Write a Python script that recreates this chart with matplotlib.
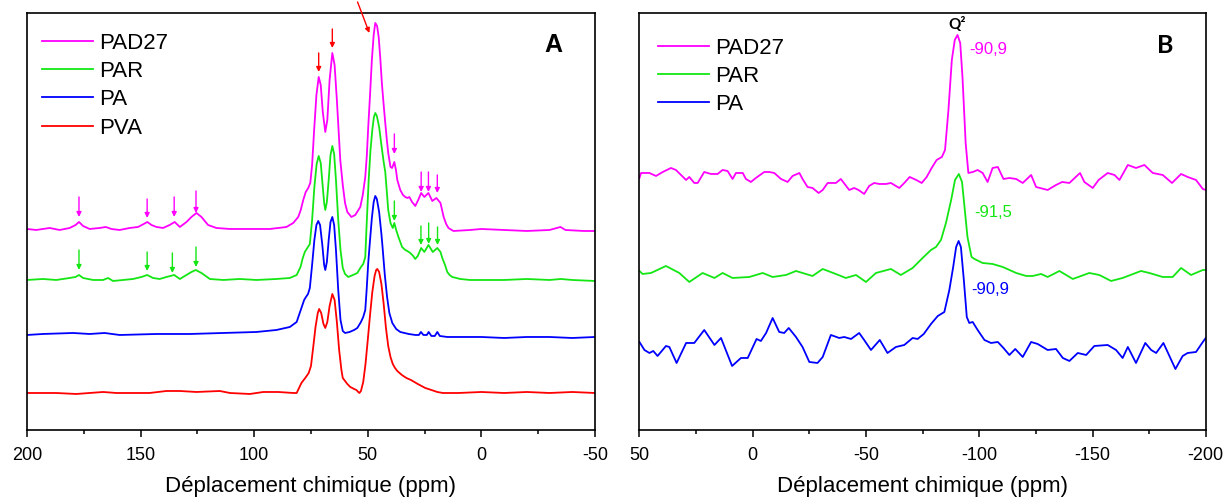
import numpy as np
import matplotlib
matplotlib.use('Agg')
import matplotlib.pyplot as plt
from matplotlib.ticker import MultipleLocator

plt.rcParams['font.family'] = ['Liberation Sans', 'DejaVu Sans']
plt.rcParams['axes.unicode_minus'] = False

# ---- panneau A : RMN 13C (ppm, intensite en unites arbitraires, spectres decales) ----
pad27_a = [(200, 201), (195.9, 200), (190, 202), (185.6, 200), (181.2, 202), (178.6, 205), (177.1, 208),
           (175.3, 204), (172.4, 201), (168, 202), (165.3, 203), (162.8, 201), (159.2, 200), (154.8, 202),
           (151.1, 203), (148.6, 206), (147, 208), (145.2, 205), (143, 203), (140.1, 202), (137.2, 205),
           (135, 208), (132.7, 203), (129.8, 208), (127.6, 213), (125.4, 217), (123.2, 213), (120.3, 205),
           (116.6, 202), (110.7, 201), (101.9, 201), (93.1, 201), (85.8, 203), (82.8, 207), (80.6, 213),
           (79.5, 220), (78.4, 230), (77.3, 238), (76.2, 242), (75.3, 247), (74.5, 265), (73.6, 300),
           (72.6, 335), (71.6, 353), (70.7, 345), (69.8, 318), (68.7, 298), (67.8, 310), (66.8, 350),
           (65.6, 377), (64.6, 365), (63.6, 330), (62.6, 290), (62.1, 270), (61, 245), (60, 227), (59, 218),
           (57.2, 213), (55.5, 215), (53.3, 223), (52.2, 235), (51.1, 253), (50.4, 275), (49.8, 303),
           (49, 335), (48.2, 370), (47.4, 395), (46.7, 407), (45.9, 404), (45.2, 393), (44.5, 372),
           (43.8, 347), (43, 325), (42.3, 307), (41.6, 290), (41, 277), (40, 263), (39.3, 262), (38.3, 268),
           (37.6, 260), (37, 250), (35.7, 240), (34.5, 235), (33.5, 233), (32.5, 232), (31.7, 233),
           (30.5, 228), (29.1, 224), (27.8, 230), (26.5, 237), (25.1, 233), (23.3, 237), (21.6, 229),
           (19.8, 232), (18, 227), (16.6, 213), (15.5, 206), (14.5, 202), (12.3, 199), (5, 200), (0, 201),
           (-10, 200), (-20, 199), (-30, 200), (-34.8, 203), (-37, 200), (-45, 199), (-50, 199)]

par_a = [(200, 150), (193, 151), (187.1, 150), (181.2, 152), (178.6, 153), (177.1, 155), (175.3, 152),
         (170.9, 150), (166.5, 150), (164.3, 152), (162.1, 149), (157.7, 150), (153.3, 151), (149.6, 153),
         (147.1, 155), (144.5, 152), (141.6, 151), (138.6, 153), (135.2, 155), (132.7, 151), (129.8, 155),
         (127.6, 158), (125.7, 160), (123.2, 157), (119.5, 151), (113.6, 150), (106.3, 151), (99, 150),
         (90.2, 151), (84.3, 152), (81.3, 155), (79.6, 163), (78.6, 172), (77.7, 178), (76.6, 182),
         (75.5, 186), (74.5, 210), (73.5, 243), (72.5, 266), (71.6, 274), (70.7, 267), (69.8, 243),
         (69.2, 227), (68.7, 220), (68, 228), (67.2, 250), (66.4, 275), (65.6, 284), (64.8, 276), (64, 250),
         (63, 210), (62, 180), (61, 162), (60, 156), (58.6, 153), (56.5, 155), (54.6, 157), (53, 163),
         (52, 166), (51.1, 173), (50.5, 205), (49.6, 250), (48.8, 280), (48, 300), (47.3, 313), (46.7, 317),
         (46, 314), (45, 303), (44, 285), (43, 268), (42.3, 258), (41.5, 235), (41, 220), (40, 207),
         (39, 202), (38.3, 207), (37.5, 200), (36.5, 193), (34.9, 183), (33.5, 180), (32.6, 179),
         (31.3, 177), (30, 174), (29.1, 171), (28, 174), (26.5, 182), (25.1, 178), (23.3, 185), (21.4, 178),
         (19.4, 182), (18, 178), (17.2, 172), (16, 165), (15, 158), (14, 155), (12.8, 153), (9.3, 151),
         (5, 150), (0, 150), (-10, 150), (-20, 151), (-30, 150), (-35, 151), (-40, 150), (-50, 149)]

pa_a = [(200, 95), (193, 96), (179.7, 97), (172.4, 96), (165.8, 97), (159.2, 95), (143, 96), (128.3, 96),
        (113.7, 97), (99, 98), (90.2, 100), (84.3, 103), (81.3, 108), (79.2, 122), (78, 130), (77.2, 133),
        (76.3, 136), (75.5, 142), (74.5, 165), (73.5, 190), (72.6, 205), (71.8, 209), (71, 205), (70, 185),
        (69.2, 165), (68.7, 160), (68, 168), (67.2, 190), (66.4, 208), (65.6, 213), (64.8, 205), (64, 180),
        (63, 140), (62, 110), (61, 99), (60, 97), (58, 98), (56, 100), (54.6, 102), (53, 108), (52, 113),
        (51.1, 120), (50.5, 140), (49.8, 167), (49, 190), (48.2, 212), (47.4, 228), (46.7, 234), (46, 231),
        (45, 218), (44, 196), (43.5, 183), (42.5, 155), (41.5, 133), (40.5, 117), (39.2, 107), (37.5, 101),
        (35.7, 98), (32, 96), (29, 95), (27.5, 95), (26.6, 98), (25.5, 95), (24, 95), (23.2, 98), (22, 94),
        (20.5, 94), (19.4, 98), (18.3, 94), (15, 93), (10, 93), (0, 93), (-10, 92), (-20, 93), (-30, 93),
        (-40, 92), (-50, 93)]

pva_a = [(200, 37), (193, 37), (187.1, 37), (178.3, 36), (172.4, 37), (166.5, 38), (160.6, 37), (153.3, 37),
         (146, 37), (138.6, 39), (132.7, 39), (125.4, 38), (115.1, 39), (110.7, 37), (101.9, 36), (96, 38),
         (89.4, 38), (82.8, 37), (81.3, 37), (79.2, 47), (77.2, 53), (76, 57), (75, 64), (74, 83), (73, 103),
         (72, 117), (71.4, 121), (70.5, 117), (69.5, 106), (68.7, 102), (67.8, 108), (66.8, 124),
         (65.6, 136), (64.6, 130), (63.6, 108), (62.6, 80), (61.6, 60), (61, 52), (59, 46), (57.7, 43),
         (56, 41), (55, 40), (54.2, 38), (53.7, 37), (53, 39), (52, 48), (51, 66), (50, 90), (49, 115),
         (48, 138), (47, 154), (46.3, 160), (45.8, 161), (45, 158), (44, 146), (43, 126), (42, 102),
         (41, 84), (40, 73), (39, 66), (38, 62), (37, 59), (35, 55), (33, 52), (31, 50), (28, 46),
         (24.7, 42), (22, 40), (19.4, 38), (17, 37), (10, 37), (0, 38), (-10, 37), (-20, 38), (-30, 37),
         (-40, 38), (-50, 37)]

# fleches : (ppm, haut, pointe)
arrows_pad27 = [(177.1, 233, 213), (147.1, 231, 212), (135.2, 233, 213), (125.6, 239, 217),
                (38.3, 296, 276), (26.5, 258, 238), (23.3, 258, 238), (19.4, 255, 237)]
arrows_par = [(177.1, 180, 160), (147.1, 178, 159), (136.0, 177, 157), (125.6, 183, 163),
              (38.3, 229, 209), (26.6, 204, 185), (23.2, 207, 186), (19.3, 203, 185)]
arrows_red = [(71.6, 377, 358), (65.6, 401, 382)]

# ---- panneau B : RMN 29Si ----
pad27_b = [(50.0, 252), (49.3, 257), (45.6, 257), (42.7, 254), (39.7, 258), (36.1, 262), (33.9, 260),
           (29.4, 250), (28.0, 253), (25.8, 247), (24.3, 247), (21.4, 258), (18.4, 256), (15.5, 256),
           (13.3, 260), (11.1, 259), (8.9, 251), (7.4, 257), (4.4, 257), (3.0, 251), (0.8, 248), (-1.4, 252),
           (-5.1, 258), (-7.3, 258), (-9.5, 257), (-12.5, 251), (-15.4, 248), (-17.6, 254), (-20.6, 257),
           (-22.0, 251), (-24.2, 243), (-26.4, 242), (-29.1, 237), (-30.9, 240), (-33.1, 247), (-36.7, 247),
           (-38.9, 251), (-42.6, 240), (-44.8, 242), (-46.7, 240), (-49.2, 236), (-51.4, 244), (-53.6, 247),
           (-55.9, 246), (-58.8, 246), (-61.0, 247), (-64.7, 242), (-66.9, 247), (-69.3, 253), (-72.2, 250),
           (-74.6, 247), (-76.8, 253), (-79.0, 262), (-81.2, 270), (-83.5, 273), (-84.9, 280), (-86.4, 320),
           (-87.9, 370), (-89.2, 390), (-90.4, 395), (-91.6, 387), (-92.6, 353), (-94.0, 287), (-95.2, 257),
           (-97.2, 258), (-99.3, 260), (-101.5, 257), (-103.7, 248), (-105.9, 262), (-108.2, 263),
           (-110.7, 251), (-113.3, 252), (-116.3, 251), (-119.2, 247), (-122.9, 255), (-125.1, 243),
           (-130.2, 240), (-133.9, 245), (-136.6, 248), (-139.8, 247), (-144.5, 257), (-146.4, 248),
           (-150.1, 242), (-152.7, 250), (-156.7, 257), (-159.7, 255), (-161.9, 250), (-165.6, 265),
           (-169.2, 262), (-172.9, 265), (-176.6, 257), (-181.0, 255), (-185.1, 247), (-189.1, 256),
           (-192.0, 253), (-195.7, 250), (-198.7, 241), (-200, 240)]

par_b = [(50.0, 159), (48.6, 156), (44.9, 157), (38.3, 164), (32.4, 157), (28.0, 148), (22.1, 157),
         (16.9, 152), (13.3, 157), (8.9, 152), (1.5, 153), (-4.4, 157), (-8.8, 153), (-14.7, 155),
         (-19.1, 159), (-26.4, 154), (-30.9, 161), (-36.7, 156), (-41.1, 152), (-45.6, 155), (-50.0, 148),
         (-54.4, 157), (-61.0, 161), (-65.4, 155), (-70.6, 162), (-75.0, 172), (-78.7, 180), (-80.9, 183),
         (-83.1, 190), (-85.3, 207), (-87.6, 230), (-89.3, 250), (-91.0, 256), (-92.4, 248), (-93.5, 223),
         (-94.8, 193), (-96.6, 173), (-97.9, 171), (-101.5, 167), (-105.9, 166), (-110.4, 163),
         (-116.3, 157), (-120.7, 154), (-123.6, 154), (-127.3, 156), (-130.2, 153), (-135.4, 159),
         (-141.3, 151), (-148.6, 157), (-153.0, 155), (-158.2, 149), (-163.3, 152), (-171.4, 159),
         (-175.1, 157), (-181.0, 153), (-185.4, 153), (-189.1, 162), (-193.5, 155), (-198.7, 160), (-200, 160)]

pa_b = [(50.0, 88), (47.8, 80), (45.6, 77), (43.9, 79), (42.0, 74), (38.3, 84), (36.8, 83), (33.6, 67),
        (29.4, 87), (25.8, 87), (21.4, 100), (18.4, 90), (16.9, 85), (14.0, 92), (9.1, 64), (5.2, 72),
        (2.2, 72), (-1.7, 91), (-3.6, 89), (-5.9, 97), (-8.8, 112), (-11.7, 98), (-13.9, 97), (-15.9, 102),
        (-19.1, 93), (-22.0, 83), (-25.0, 68), (-28.6, 67), (-30.9, 73), (-34.5, 95), (-38.2, 92),
        (-40.4, 93), (-43.4, 91), (-47.0, 97), (-49.2, 90), (-52.2, 80), (-56.1, 90), (-59.5, 77),
        (-63.2, 83), (-66.9, 85), (-70.6, 92), (-72.8, 91), (-75.5, 96), (-78.7, 106), (-81.7, 114),
        (-84.6, 118), (-86.8, 140), (-88.5, 163), (-89.8, 183), (-90.9, 189), (-91.9, 183), (-93.2, 150),
        (-94.5, 113), (-95.6, 107), (-97.1, 108), (-99.3, 100), (-102.3, 90), (-105.2, 87), (-108.2, 88),
        (-110.7, 82), (-113.3, 75), (-115.9, 81), (-119.2, 73), (-122.9, 88), (-125.8, 86), (-130.2, 80),
        (-133.9, 81), (-136.9, 72), (-139.8, 69), (-143.5, 77), (-147.2, 75), (-150.8, 84), (-156.7, 85),
        (-160.4, 80), (-163.3, 72), (-165.6, 83), (-169.2, 67), (-173.3, 87), (-175.9, 80), (-178.1, 77),
        (-181.3, 87), (-186.6, 61), (-189.8, 74), (-192.0, 77), (-195.7, 78), (-198.7, 88), (-200, 92)]

MAG = '#ff00ff'
GRN = '#14e614'
BLU = '#0000ff'
RED = '#ff0000'
LW = 1.3


def draw(ax, pts, color, label):
    x, y = zip(*pts)
    ax.plot(x, y, color=color, lw=LW, label=label, solid_joinstyle='round')


def arrow(ax, x0, y0, x1, y1, color):
    ax.annotate('', xy=(x1, y1), xytext=(x0, y0), annotation_clip=False,
                arrowprops=dict(arrowstyle='-|>', color=color, lw=1.0, mutation_scale=7,
                                shrinkA=0, shrinkB=0))


def style_axis(ax, xmax, xmin):
    ax.set_xlim(xmax, xmin)
    ax.set_ylim(0, 417)
    ax.set_yticks([])
    ax.xaxis.set_major_locator(MultipleLocator(50))
    ax.xaxis.set_minor_locator(MultipleLocator(25))
    ax.tick_params(axis='x', which='major', direction='out', length=5, width=1.1, labelsize=13, pad=7)
    ax.tick_params(axis='x', which='minor', direction='out', length=3, width=1.1)
    for s in ax.spines.values():
        s.set_linewidth(1.2)
    ax.set_xlabel('Déplacement chimique (ppm)', fontsize=16, labelpad=9)


fig = plt.figure(figsize=(12.25, 4.99), dpi=100)
axA = fig.add_axes([0.0220, 0.1383, 0.4637, 0.8357])
axB = fig.add_axes([0.5220, 0.1383, 0.4623, 0.8357])

# --- A ---
draw(axA, pad27_a, MAG, 'PAD27')
draw(axA, par_a, GRN, 'PAR')
draw(axA, pa_a, BLU, 'PA')
draw(axA, pva_a, RED, 'PVA')
for p, t, b in arrows_pad27:
    arrow(axA, p, t, p, b, MAG)
for p, t, b in arrows_par:
    arrow(axA, p, t, p, b, GRN)
for p, t, b in arrows_red:
    arrow(axA, p, t, p, b, RED)
arrow(axA, 54.5, 428, 49.3, 397, RED)
style_axis(axA, 200, -50)
axA.legend(loc='upper left', bbox_to_anchor=(0.026, 0.953), frameon=False, fontsize=16,
           handlelength=2.3, handletextpad=0.3, labelspacing=0.33, borderaxespad=0, borderpad=0)
axA.text(0.926, 0.923, 'A', transform=axA.transAxes, fontsize=18, fontweight='bold',
         ha='center', va='center')

# --- B ---
draw(axB, pad27_b, MAG, 'PAD27')
draw(axB, par_b, GRN, 'PAR')
draw(axB, pa_b, BLU, 'PA')
style_axis(axB, 50, -200)
axB.legend(loc='upper left', bbox_to_anchor=(0.032, 0.94), frameon=False, fontsize=16,
           handlelength=2.3, handletextpad=0.3, labelspacing=0.31, borderaxespad=0, borderpad=0)
axB.text(0.928, 0.923, 'B', transform=axB.transAxes, fontsize=18, fontweight='bold',
         family=['Lato', 'DejaVu Sans'], ha='center', va='center')
axB.text(-90.2, 405, 'Q²', fontsize=11, fontweight='bold', family=['Lato', 'DejaVu Sans'],
         ha='center', va='center')
axB.text(-95.5, 380, '-90,9', color=MAG, fontsize=12, ha='left', va='center')
axB.text(-97.7, 217, '-91,5', color=GRN, fontsize=12, ha='left', va='center')
axB.text(-96.4, 140, '-90,9', color=BLU, fontsize=12, ha='left', va='center')

fig.savefig('out.png', dpi=100)
